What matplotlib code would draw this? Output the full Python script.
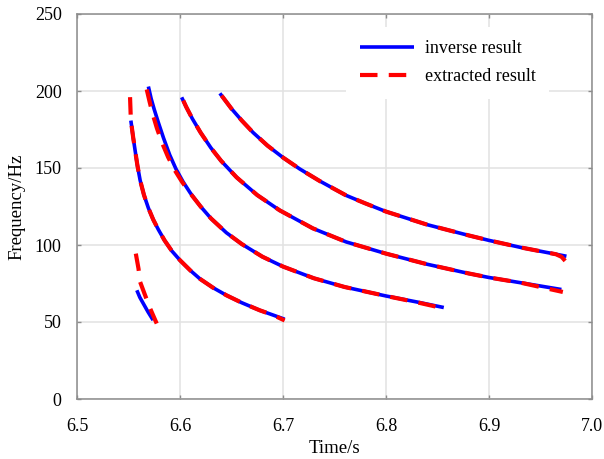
import matplotlib
matplotlib.use("Agg")
import matplotlib.pyplot as plt

# inverse result (solid blue), one branch per mode
inv_t1 = [6.5581, 6.5610, 6.5642, 6.5690, 6.5739]
inv_f1 = [70.6, 66.0, 62.2, 56.5, 51.2]

inv_t2 = [6.5523, 6.5545, 6.5565, 6.5587, 6.5613, 6.5650, 6.5693, 6.5740, 6.5790, 6.5850,
          6.5920, 6.6000, 6.6100, 6.6194, 6.6320, 6.6452, 6.6600, 6.6774, 6.6900, 6.7016]
inv_f2 = [180.8, 170.0, 161.0, 151.5, 142.0, 132.5, 124.0, 116.5, 110.0, 103.0,
          96.2, 90.1, 83.5, 78.0, 72.3, 67.3, 62.5, 57.6, 54.6, 51.8]

inv_t3 = [6.5693, 6.5720, 6.5750, 6.5790, 6.5840, 6.5900, 6.5960, 6.6030, 6.6100, 6.6200,
          6.6300, 6.6450, 6.6600, 6.6800, 6.7000, 6.7300, 6.7600, 6.8000, 6.8300, 6.8561]
inv_f3 = [202.9, 195.0, 188.0, 179.5, 169.5, 158.5, 149.5, 141.0, 133.8, 125.0,
          117.3, 108.0, 100.6, 92.4, 86.0, 78.4, 72.7, 66.9, 63.0, 59.4]

inv_t4 = [6.6016, 6.6060, 6.6120, 6.6200, 6.6300, 6.6400, 6.6550, 6.6750, 6.6968, 6.7290,
          6.7613, 6.8000, 6.8400, 6.8804, 6.9000, 6.9316, 6.9703]
inv_f4 = [195.9, 189.7, 182.0, 173.0, 163.1, 154.6, 143.9, 132.4, 122.5, 110.8,
          102.0, 94.4, 87.5, 81.5, 78.9, 75.4, 71.1]

inv_t5 = [6.6387, 6.6500, 6.6600, 6.6710, 6.6850, 6.7000, 6.7162, 6.7355, 6.7613, 6.7800,
          6.8000, 6.8400, 6.8804, 6.9000, 6.9316, 6.9752]
inv_f5 = [198.5, 188.5, 180.8, 173.0, 164.5, 156.8, 149.4, 141.6, 132.2, 127.0,
          121.7, 113.2, 106.2, 103.0, 98.3, 92.7]

# extracted result (dashed red)
ext_t1 = [6.5571, 6.5597, 6.5613, 6.5661, 6.5710, 6.5774]
ext_f1 = [94.4, 84.7, 76.0, 67.4, 58.8, 49.0]

ext_t2 = [6.5515, 6.5523, 6.5545, 6.5565, 6.5587, 6.5613, 6.5650, 6.5693, 6.5740, 6.5790, 6.5850,
          6.5920, 6.6000, 6.6100, 6.6194, 6.6320, 6.6452, 6.6600, 6.6774, 6.6900, 6.7016]
ext_f2 = [196.0, 181.0, 170.0, 161.0, 151.5, 142.0, 132.5, 124.0, 116.5, 110.0, 103.0,
          96.2, 90.1, 83.5, 78.0, 72.3, 67.3, 62.5, 57.6, 54.6, 51.0]

ext_t3 = [6.5677, 6.5705, 6.5735, 6.5775, 6.5825, 6.5885, 6.5950, 6.6020, 6.6100, 6.6200,
          6.6300, 6.6450, 6.6600, 6.6800, 6.7000, 6.7300, 6.7600, 6.8000, 6.8300, 6.8570]
ext_f3 = [201.0, 193.0, 185.0, 176.0, 166.5, 157.0, 148.5, 141.0, 133.5, 125.0,
          117.3, 108.0, 100.6, 92.4, 86.0, 78.4, 72.7, 66.9, 62.8, 58.7]

ext_t4 = [6.6032, 6.6060, 6.6120, 6.6200, 6.6300, 6.6400, 6.6550, 6.6750, 6.6968, 6.7290,
          6.7613, 6.8000, 6.8400, 6.8804, 6.9000, 6.9316, 6.9717]
ext_f4 = [193.8, 189.7, 182.0, 173.0, 163.1, 154.6, 143.9, 132.4, 122.5, 110.8,
          102.0, 94.4, 87.5, 81.5, 78.9, 75.4, 69.5]

ext_t5 = [6.6404, 6.6500, 6.6600, 6.6710, 6.6850, 6.7000, 6.7162, 6.7355, 6.7613, 6.7800,
          6.8000, 6.8400, 6.8804, 6.9000, 6.9316, 6.9550, 6.9650, 6.9705, 6.9749]
ext_f5 = [197.0, 188.5, 180.8, 173.0, 164.5, 156.8, 149.4, 141.6, 132.2, 127.0,
          121.7, 113.2, 106.2, 103.0, 98.3, 95.3, 94.0, 92.3, 89.0]

inv_branches = [(inv_t1, inv_f1), (inv_t2, inv_f2), (inv_t3, inv_f3), (inv_t4, inv_f4), (inv_t5, inv_f5)]
ext_branches = [(ext_t1, ext_f1), (ext_t2, ext_f2), (ext_t3, ext_f3), (ext_t4, ext_f4), (ext_t5, ext_f5)]

x_ticks = [6.5, 6.6, 6.7, 6.8, 6.9, 7.0]
y_ticks = [0, 50, 100, 150, 200, 250]

plt.rcParams['font.family'] = ['Liberation Serif', 'DejaVu Serif']
plt.rcParams['font.size'] = 13

fig = plt.figure(figsize=(6.04, 4.59), dpi=100)
ax = fig.add_axes([77 / 604, 60 / 459, 515 / 604, 385 / 459])

for i, (t, f) in enumerate(inv_branches):
    ax.plot(t, f, color='blue', lw=2.6, solid_capstyle='butt', solid_joinstyle='round',
            label='inverse result' if i == 0 else None, zorder=3)
for i, (t, f) in enumerate(ext_branches):
    ax.plot(t, f, color='red', lw=3.0, dashes=(4.2, 2.7), dash_joinstyle='round',
            label='extracted result' if i == 0 else None, zorder=4)

ax.set_xlim(6.5, 7.0)
ax.set_ylim(0, 250)
ax.set_xticks(x_ticks)
ax.set_xticklabels(['%.1f' % v for v in x_ticks])
ax.set_yticks(y_ticks)

ax.grid(True, color='#e2e2e2', lw=1.1)
ax.set_axisbelow(True)
for s in ax.spines.values():
    s.set_color('#8c8c8c')
    s.set_linewidth(1.1)
ax.tick_params(direction='in', length=3, width=1, color='#8c8c8c',
               top=True, right=True, labelsize=13)
ax.tick_params(axis='x', pad=14)
ax.tick_params(axis='y', pad=11)

ax.set_xlabel('Time/s', fontsize=13.5, labelpad=3)
ax.set_ylabel('Frequency/Hz', fontsize=13.5, labelpad=7)

leg = ax.legend(loc='upper left', bbox_to_anchor=(0.505, 0.99), fontsize=13,
                handlelength=3.0, handletextpad=0.6, labelspacing=0.6,
                borderpad=0.75, frameon=True, fancybox=False)
leg.get_frame().set_edgecolor('none')
leg.get_frame().set_facecolor('white')
leg.get_frame().set_alpha(1)

fig.savefig('out.png', dpi=100)
